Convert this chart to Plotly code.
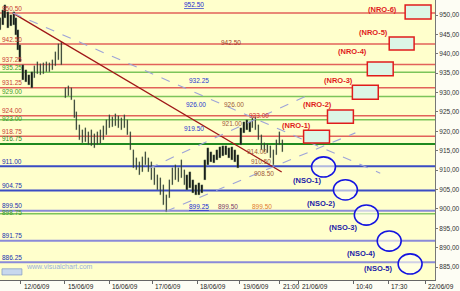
import plotly.graph_objects as go

# ---------------- data ----------------
bar_x = [0, 3, 5, 8, 11, 14, 16, 18, 20, 23, 26, 29, 32, 35, 38, 41, 44, 47, 50, 53, 56, 59, 62,
         66, 69, 72, 75, 77,
         80, 83, 86, 89, 92, 95, 98, 101, 104, 107, 110, 113, 116, 119, 122, 125, 128, 131, 134,
         137, 140, 143, 146, 149, 152, 155, 158, 161, 164, 167, 170, 173, 176, 179, 182, 185, 188,
         191, 194, 197, 200, 203, 206, 209, 212, 215, 218, 221, 224, 227, 230, 233, 236, 239, 242,
         245, 248, 251, 254, 257, 260, 263, 266, 269, 272, 275, 278, 281, 284]
bar_high = [949.2, 951.3, 952.6, 950.8, 950.0, 950.8, 949.2, 946.1, 942.3, 937.1, 935.8, 934.5,
            935.3, 936.8, 937.9, 937.4, 937.6, 937.9, 937.6, 938.4, 940.5, 942.5, 943.0,
            931.2, 931.7, 931.2, 928.1, 925.0,
            921.6, 920.3, 920.8, 919.8, 920.3, 919.3, 919.8, 920.3, 921.3, 922.9,
            924.2, 923.7, 924.5, 924.0, 923.4, 924.2,
            922.9, 919.8, 915.2, 913.1, 912.1, 913.4,
            914.7, 913.1, 912.1, 910.5, 908.7, 907.9, 906.2, 903.6,
            907.4, 910.5, 911.3, 910.5,
            912.6, 910.0, 908.7, 909.5,
            907.4, 906.2, 906.7, 906.2,
            912.6, 915.7, 914.7, 913.9, 915.2,
            916.0, 916.2, 916.2, 915.7,
            916.0, 915.2, 913.9,
            920.8, 922.4, 922.9, 922.4, 923.4,
            923.7, 921.6, 919.0, 917.0,
            916.7, 916.2, 915.2, 917.8,
            919.8, 917.8]
bar_low = [946.1, 947.4, 949.2, 946.6, 947.2, 947.4, 944.8, 941.0, 937.9, 933.2, 932.7, 931.9,
           931.2, 933.7, 934.8, 934.5, 934.8, 935.3, 935.3, 935.8, 936.8, 938.4, 937.1,
           928.6, 929.1, 928.1, 923.4, 920.3,
           917.8, 917.0, 917.3, 916.5, 916.2, 915.7, 916.5, 916.7, 917.8, 919.0,
           920.8, 921.1, 921.3, 920.8, 920.3, 920.8,
           919.0, 915.2, 910.5, 910.0, 908.7, 909.5,
           911.3, 909.5, 907.4, 906.2, 904.9, 903.6, 901.0, 899.2,
           902.8, 906.2, 907.4, 906.9,
           907.9, 906.2, 904.9, 905.4,
           904.1, 903.6, 903.6, 904.1,
           907.4, 911.3, 912.1, 911.8, 912.6,
           913.1, 913.6, 913.9, 913.1,
           912.6, 912.1, 910.5,
           916.5, 919.5, 920.3, 919.8, 920.8,
           920.3, 917.8, 915.2, 914.7,
           914.4, 913.1, 911.3, 913.9,
           916.5, 914.7]

red_levels = [950.50, 942.50, 937.25, 931.25, 924.00, 918.75]
green_levels = [935.25, 929.00, 923.00, 898.75]
main_green_level = 916.75
blue_dark_levels = [911.00, 904.75]
blue_light_levels = [899.50, 891.75, 886.25]

trend_x = [13, 283]
trend_y = [950.5, 909.5]
dash_down_x = [13, 382]
dash_down_y = [950.5, 909.2]
chan_up_x = [150, 310]
chan_up_y = [910.5, 929.4]
chan_low_x = [167, 357]
chan_low_y = [899.4, 919.6]

nro_names = ["(NRO-1)", "(NRO-2)", "(NRO-3)", "(NRO-4)", "(NRO-5)", "(NRO-6)"]
nro_x0 = [305, 329, 354, 369, 391, 407]
nro_x1 = [331, 355, 380, 395, 416, 433]
nro_top = [920.3, 925.5, 931.9, 937.9, 944.3, 952.6]
nro_bot = [917.0, 922.1, 928.3, 934.3, 941.0, 949.0]
nro_lab_x = [298, 319, 340, 354, 375, 384]
nro_lab_y = [921.6, 927.0, 933.2, 940.5, 945.6, 951.5]

nso_names = ["(NSO-1)", "(NSO-2)", "(NSO-3)", "(NSO-4)", "(NSO-5)"]
nso_cx = [325, 347, 368, 391, 412]
nso_cy = [910.8, 904.9, 898.4, 891.7, 885.8]
nso_lab_x = [308, 322, 345, 363, 380]
nso_lab_y = [907.4, 901.5, 895.3, 888.4, 884.5]

note_text = ["952.50", "942.50", "932.25", "926.00", "926.00", "919.50", "921.00", "923.00",
             "914.00", "910.50", "908.50", "899.25", "899.50", "899.50"]
note_x = [195, 232, 200, 197, 235, 195, 233, 260, 258, 262, 265, 200, 229, 263]
note_y = [952.8, 943.0, 933.2, 927.0, 927.0, 920.6, 922.1, 924.0, 914.9, 912.1, 909.0, 900.5, 900.5, 900.5]
note_col = ["#1a2ad0", "#a03a2a", "#2a3ad0", "#2a3ad0", "#a05a3a", "#2a3ad0", "#a05a3a", "#d03030",
            "#a05a3a", "#a05a3a", "#a05a3a", "#1a2ad0", "#7a3a6a", "#e07a30"]

x_tick_pos = [-2, 21, 65, 110, 153, 198, 241, 281, 300, 355, 390, 427]
x_tick_text = ["20", "12/06/09", "15/06/09", "16/06/09", "17/06/09", "18/06/09", "19/06/09",
               "21:00", "21/06/09", "10:40", "17:30", "22/06/09"]
y_tick_vals = [885, 890, 895, 900, 905, 910, 915, 920, 925, 930, 935, 940, 945, 950]
y_tick_text = ["885,00", "890,00", "895,00", "900,00", "905,00", "910,00", "915,00", "920,00",
               "925,00", "930,00", "935,00", "940,00", "945,00", "950,00"]

X_MAX = 437
Y_MIN, Y_MAX = 881.65, 953.87

# ---------------- figure ----------------
fig = go.Figure()
shapes = []
annotations = []

def hline(level, color, width):
    shapes.append(dict(type="line", xref="x", yref="y", x0=0, x1=X_MAX, y0=level, y1=level,
                       line=dict(color=color, width=width), layer="below"))

for lv in red_levels:
    hline(lv, "#e2625a", 1.5)
for lv in green_levels:
    hline(lv, "#7cc45a", 1.5)
hline(main_green_level, "#1f8a1f", 2)
for lv in blue_dark_levels:
    hline(lv, "#3a4cc4", 2)
for lv in blue_light_levels:
    hline(lv, "#8a8ad8", 2)

# left level labels; labels of lines that sit just below another line are kept tight to their line
crowded = {923.00, 898.75}

def level_label(level, color):
    annotations.append(dict(x=0, y=level, xref="x", yref="y", text=f"{level:.2f}",
                            showarrow=False, xanchor="left", yanchor="middle",
                            yshift=1.5 if level in crowded else 5,
                            font=dict(size=6.5, color=color, family="Liberation Sans")))

for lv in red_levels:
    level_label(lv, "#c83c34")
for lv in green_levels:
    level_label(lv, "#3a9a2a")
level_label(main_green_level, "#2a8a2a")
for lv in blue_dark_levels + blue_light_levels:
    level_label(lv, "#2030b0")

# price bars
fig.add_trace(go.Bar(x=bar_x, y=[h - l for h, l in zip(bar_high, bar_low)], base=bar_low,
                     width=1.3, marker=dict(color="#101410", line=dict(color="#7a9a7a", width=0.3)),
                     showlegend=False, hoverinfo="skip"))

# trend lines
fig.add_trace(go.Scatter(x=trend_x, y=trend_y, mode="lines",
                         line=dict(color="#a01818", width=1.3), showlegend=False, hoverinfo="skip"))
for lx, ly in [(dash_down_x, dash_down_y), (chan_up_x, chan_up_y), (chan_low_x, chan_low_y)]:
    fig.add_trace(go.Scatter(x=lx, y=ly, mode="lines",
                             line=dict(color="#9ea4d8", width=1.1, dash="dash"),
                             showlegend=False, hoverinfo="skip"))

# NRO boxes
for name, x0, x1, t, b, lx, ly in zip(nro_names, nro_x0, nro_x1, nro_top, nro_bot, nro_lab_x, nro_lab_y):
    shapes.append(dict(type="rect", xref="x", yref="y", x0=x0, x1=x1, y0=b, y1=t,
                       line=dict(color="#e01c1c", width=1.5), fillcolor="#dcf6e6", layer="above"))
    annotations.append(dict(x=lx, y=ly, xref="x", yref="y", text=f"<b>{name}</b>", showarrow=False,
                            font=dict(size=7.5, color="#e01c1c", family="Liberation Sans")))

# NSO circles
for name, cx, cy, lx, ly in zip(nso_names, nso_cx, nso_cy, nso_lab_x, nso_lab_y):
    shapes.append(dict(type="circle", xref="x", yref="y", x0=cx - 12, x1=cx + 12, y0=cy - 2.6, y1=cy + 2.6,
                       line=dict(color="#1414e0", width=1.6), fillcolor="rgba(255,255,240,0.6)", layer="above"))
    annotations.append(dict(x=lx, y=ly, xref="x", yref="y", text=f"<b>{name}</b>", showarrow=False,
                            font=dict(size=7.5, color="#1a1aa8", family="Liberation Sans")))

# small value notes
for t, x, y, c in zip(note_text, note_x, note_y, note_col):
    font = dict(size=6.5, color=c, family="Liberation Sans")
    if t in ("952.50", "899.25") and c == "#1a2ad0":
        font["lineposition"] = "under"
    annotations.append(dict(x=x, y=y, xref="x", yref="y", text=t, showarrow=False, font=font))

# x labels
for p, t in zip(x_tick_pos, x_tick_text):
    annotations.append(dict(x=p + 1, y=0, xref="x", yref="paper", text=t, showarrow=False,
                            xanchor="left", yanchor="top", yshift=-1,
                            font=dict(size=6.5, color="#222", family="Liberation Sans")))

# watermark
shapes.append(dict(type="rect", xref="x", yref="paper", x0=2, x1=22, y0=0.018, y1=0.04,
                   line=dict(color="#8aa0c8", width=0.8), fillcolor="#c8d8ee", layer="above"))
annotations.append(dict(x=24, y=0.03, xref="x", yref="paper", text="www.visualchart.com",
                        showarrow=False, xanchor="left",
                        font=dict(size=7, color="#98b0dc", family="Liberation Sans")))

fig.update_layout(
    width=460, height=291,
    margin=dict(l=0, r=23, t=0, b=11),
    plot_bgcolor="#ffffcc", paper_bgcolor="#fdfdf4",
    shapes=shapes, annotations=annotations, showlegend=False, bargap=0,
    xaxis=dict(range=[0, X_MAX], showgrid=False, zeroline=False, showline=True, linecolor="#666",
               linewidth=1, ticks="outside", ticklen=3, tickcolor="#666",
               tickvals=x_tick_pos, showticklabels=False, fixedrange=True),
    yaxis=dict(range=[Y_MIN, Y_MAX], side="right", showgrid=False, zeroline=False, showline=True,
               linecolor="#777", linewidth=1, ticks="outside", ticklen=2, tickcolor="#777",
               tickvals=y_tick_vals, ticktext=y_tick_text,
               tickfont=dict(size=6.5, color="#333", family="Liberation Sans"), fixedrange=True),
)

fig.write_html("out.html")
